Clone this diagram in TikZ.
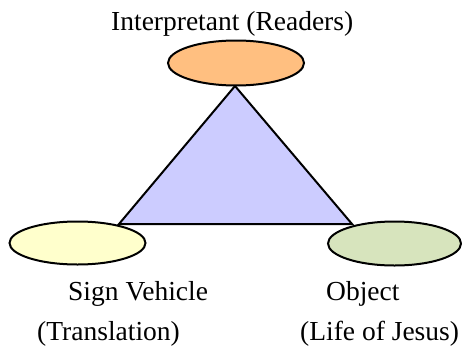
\documentclass[tikz,border=0pt]{standalone}
\usepackage{fontspec}
\setmainfont{Liberation Serif}
\usetikzlibrary{shapes.geometric}
\definecolor{interpfill}{HTML}{FFBF80}
\definecolor{signfill}{HTML}{FFFFCC}
\definecolor{objfill}{HTML}{D7E4BD}
\definecolor{trifill}{HTML}{CCCCFF}
\tikzset{
  vertex/.style={ellipse, draw=black, line width=2pt, inner sep=0pt},
  label text/.style={anchor=base west, inner sep=0pt, font=\fontsize{27.5}{32}\selectfont},
}
\begin{document}
\begin{tikzpicture}[x=1pt, y=-1pt]
  \useasboundingbox (0,0) rectangle (462,348);
  % corners of the triangle
  \coordinate (apex) at (235,86);
  \coordinate (left corner) at (119,224);
  \coordinate (right corner) at (352,224);
  \draw[fill=trifill, line width=2pt, line join=miter]
    (apex) -- (left corner) -- (right corner) -- cycle;
  % the three ellipses
  \node[vertex, fill=interpfill, minimum width=136pt, minimum height=45pt] (interp) at (236,63) {};
  \node[vertex, fill=signfill, minimum width=136pt, minimum height=43pt] (sign) at (77.5,243) {};
  \node[vertex, fill=objfill, minimum width=133pt, minimum height=44pt] (object) at (394.5,243.5) {};
  % labels
  \node[label text] (interp label) at (111,30) {Interpretant (Readers)};
  \node[label text] (sign label) at (68,300) {Sign Vehicle};
  \node[label text] (sign sub) at (37,340) {(Translation)};
  \node[label text] (object label) at (326,300) {Object};
  \node[label text] (object sub) at (300,340) {(Life of Jesus)};
\end{tikzpicture}
\end{document}
